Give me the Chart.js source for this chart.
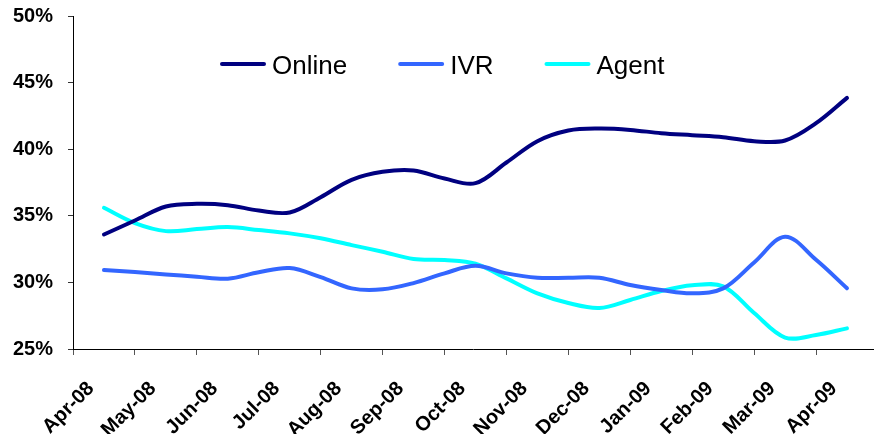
<!DOCTYPE html>
<html>
<head>
<meta charset="utf-8">
<script src="https://cdn.jsdelivr.net/npm/chart.js@4.4.1/dist/chart.umd.min.js"></script>
<style>
  html, body { margin: 0; padding: 0; background: #ffffff; }
  #wrap { width: 874px; height: 434px; }
</style>
</head>
<body>
<div id="wrap"><canvas id="chart" width="874" height="434"></canvas></div>
<script>
// Month labels along the bottom axis (one tick per month)
const monthLabels = ['Apr-08', 'May-08', 'Jun-08', 'Jul-08', 'Aug-08', 'Sep-08', 'Oct-08',
                     'Nov-08', 'Dec-08', 'Jan-09', 'Feb-09', 'Mar-09', 'Apr-09'];

// Semi-monthly reading positions, in months from Apr-08
const periods = [0.5, 1.0, 1.5, 2.0, 2.5, 3.0, 3.5, 4.0, 4.5, 5.0, 5.5, 6.0, 6.5,
                 7.0, 7.5, 8.0, 8.5, 9.0, 9.5, 10.0, 10.5, 11.0, 11.5, 12.0, 12.5];

// Channel share (%)
const online = [33.6, 34.65, 35.7, 35.9, 35.8, 35.4, 35.25, 36.4, 37.7, 38.3, 38.4, 37.8, 37.45,
                39.0, 40.6, 41.4, 41.55, 41.45, 41.2, 41.05, 40.9, 40.6, 40.65, 41.95, 43.85];
const ivr    = [30.93, 30.78, 30.6, 30.43, 30.28, 30.76, 31.08, 30.4, 29.55, 29.48, 29.95, 30.68, 31.25,
                30.68, 30.35, 30.35, 30.35, 29.8, 29.43, 29.18, 29.55, 31.5, 33.43, 31.7, 29.56];
const agent  = [35.6, 34.45, 33.85, 34.0, 34.15, 33.93, 33.68, 33.31, 32.8, 32.3, 31.76, 31.68, 31.4,
                30.3, 29.17, 28.45, 28.08, 28.68, 29.35, 29.78, 29.7, 27.7, 25.86, 26.05, 26.55];

const FONT = "'Liberation Sans', Arial, Helvetica, sans-serif";

function toPoints(values) {
  return values.map((v, i) => ({ x: periods[i], y: v }));
}

function series(label, values, color) {
  return {
    label: label,
    data: toPoints(values),
    borderColor: color,
    backgroundColor: color,
    borderWidth: 4,
    pointRadius: 0,
    pointHoverRadius: 0,
    tension: 0.35,
    borderCapStyle: 'round',
    borderJoinStyle: 'round',
    fill: false
  };
}

// Horizontal legend drawn inside the plot: line sample followed by the series name
const lineLegend = {
  id: 'lineLegend',
  afterDraw(chart, args, opts) {
    const ctx = chart.ctx;
    ctx.save();
    ctx.font = opts.font;
    ctx.textBaseline = 'alphabetic';
    ctx.textAlign = 'left';
    let x = opts.x;
    chart.data.datasets.forEach(ds => {
      ctx.strokeStyle = ds.borderColor;
      ctx.lineWidth = opts.lineWidth;
      ctx.lineCap = 'round';
      ctx.beginPath();
      ctx.moveTo(x + 2, opts.lineY);
      ctx.lineTo(x + opts.sample - 2, opts.lineY);
      ctx.stroke();
      x += opts.sample + opts.gap;
      ctx.fillStyle = '#000000';
      ctx.fillText(ds.label, x, opts.baseline);
      x += ctx.measureText(ds.label).width + opts.itemGap;
    });
    ctx.restore();
  }
};

new Chart(document.getElementById('chart'), {
  type: 'line',
  data: {
    datasets: [
      series('Online', online, '#000080'),
      series('IVR', ivr, '#3366FF'),
      series('Agent', agent, '#00FFFF')
    ]
  },
  options: {
    responsive: false,
    animation: false,
    devicePixelRatio: 1,
    layout: { padding: { top: 16, right: 1, bottom: 0, left: 0 } },
    plugins: {
      legend: { display: false },
      tooltip: { enabled: false },
      lineLegend: {
        x: 220, lineY: 64, baseline: 74, sample: 46, gap: 6, itemGap: 51, lineWidth: 4,
        font: "26px " + FONT
      }
    },
    scales: {
      x: {
        type: 'linear',
        min: 0,
        max: 12.92,
        afterBuildTicks: s => { s.ticks = monthLabels.map((_, i) => ({ value: i })); },
        afterFit: s => { s.height = 85; s.paddingLeft = 0; s.paddingRight = 0; },
        grid: { drawOnChartArea: false, drawTicks: true, tickLength: 6, color: '#555555' },
        border: { color: '#000000', width: 1 },
        ticks: {
          autoSkip: false,
          minRotation: 45,
          maxRotation: 45,
          labelOffset: 18,
          padding: 22,
          color: '#000000',
          font: { family: FONT, size: 20, weight: 'bold' },
          callback: v => monthLabels[Math.round(v)]
        }
      },
      y: {
        min: 25,
        max: 50,
        afterFit: s => { s.width = 73; s.paddingTop = 0; s.paddingBottom = 0; },
        grid: { drawOnChartArea: false, drawTicks: true, tickLength: 5, color: '#333333' },
        border: { color: '#000000', width: 1 },
        ticks: {
          stepSize: 5,
          padding: 15,
          color: '#000000',
          font: { family: FONT, size: 20, weight: 'bold' },
          callback: v => v + '%'
        }
      }
    }
  },
  plugins: [lineLegend]
});
</script>
</body>
</html>
